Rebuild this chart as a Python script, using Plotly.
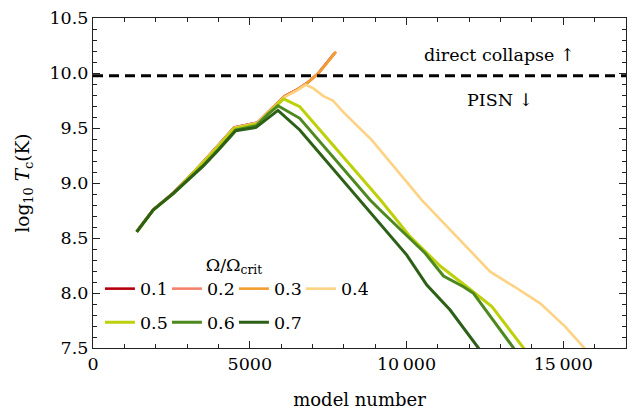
import plotly.graph_objects as go

# ---- data ----
omega_labels = ["0.1", "0.2", "0.3", "0.4", "0.5", "0.6", "0.7"]
colors = ["#b3000b", "#f4836c", "#f29d2f", "#fdd282", "#bdd10b", "#4e891f", "#2c6016"]

x_01 = [1394, 1923, 2563, 2936, 3520, 4000, 4500, 5250, 5700, 6100, 6500, 6820, 7190, 7403, 7700]
y_01 = [8.562, 8.760, 8.912, 9.018, 9.195, 9.345, 9.505, 9.550, 9.675, 9.787, 9.848, 9.908, 9.999, 10.075, 10.180]
x_02 = [1394, 1923, 2563, 2936, 3520, 4000, 4500, 5250, 5700, 6100, 6500, 6820, 7190, 7403, 7730]
y_02 = [8.560, 8.758, 8.910, 9.016, 9.193, 9.343, 9.503, 9.548, 9.673, 9.786, 9.847, 9.907, 9.998, 10.074, 10.188]
x_03 = [1394, 1923, 2563, 2936, 3520, 4000, 4500, 5250, 5700, 6100, 6500, 6820, 7190, 7403, 7754]
y_03 = [8.558, 8.757, 8.908, 9.014, 9.191, 9.341, 9.501, 9.546, 9.672, 9.785, 9.846, 9.906, 9.997, 10.073, 10.194]
x_04 = [1394, 1923, 2563, 2936, 3520, 4000, 4500, 5250, 5700, 6100, 6500, 6790, 7030, 7350, 7650,
        8000, 8893, 9800, 10488, 11577, 12666, 13518, 14262, 15060, 15700]
y_04 = [8.557, 8.756, 8.907, 9.013, 9.190, 9.340, 9.500, 9.545, 9.670, 9.780, 9.840, 9.893, 9.860, 9.790, 9.750,
        9.640, 9.390, 9.080, 8.845, 8.520, 8.194, 8.043, 7.906, 7.694, 7.490]
x_05 = [1394, 1923, 2563, 2936, 3520, 4000, 4500, 5250, 5700, 6080, 6595, 9158, 10116, 11073, 11924, 12722, 13760]
y_05 = [8.556, 8.755, 8.906, 9.012, 9.185, 9.335, 9.495, 9.540, 9.665, 9.765, 9.694, 8.850, 8.512, 8.245, 8.057, 7.876, 7.490]
x_06 = [1394, 1923, 2563, 2936, 3520, 4000, 4550, 5200, 5600, 5900, 6595, 8838, 9158, 10595, 11178, 11816, 12135, 13440]
y_06 = [8.556, 8.755, 8.906, 9.005, 9.160, 9.305, 9.480, 9.520, 9.630, 9.702, 9.588, 8.845, 8.755, 8.361, 8.155, 8.057, 7.997, 7.490]
x_07 = [1394, 1923, 2563, 2936, 3520, 4000, 4550, 5200, 5600, 5900, 6595, 8519, 8785, 10009, 10648, 11391, 12320]
y_07 = [8.556, 8.755, 8.906, 9.005, 9.155, 9.300, 9.475, 9.505, 9.590, 9.660, 9.482, 8.845, 8.755, 8.345, 8.073, 7.845, 7.490]

xs = [x_01, x_02, x_03, x_04, x_05, x_06, x_07]
ys = [y_01, y_02, y_03, y_04, y_05, y_06, y_07]

threshold = 9.975
x_ticks = [0, 5000, 10000, 15000]
x_ticktext = ["0", "5000", "10\u2009000", "15\u2009000"]
y_ticks = [7.5, 8.0, 8.5, 9.0, 9.5, 10.0, 10.5]

FONT = "DejaVu Serif"
FS = 17.5

fig = go.Figure()
for i, (lab, c) in enumerate(zip(omega_labels, colors)):
    fig.add_trace(go.Scatter(
        x=xs[i], y=ys[i], mode="lines", name=lab,
        line=dict(color=c, width=3 if i >= 4 else 2.6),
        legend="legend" if i < 4 else "legend2",
    ))

fig.add_hline(y=threshold, line=dict(color="black", width=3.2, dash="10px,6px"))

fig.add_annotation(x=0.763, y=0.888, xref="paper", yref="paper", text="direct collapse ↑",
                   xanchor="center", yanchor="middle",
                   showarrow=False, font=dict(family=FONT, size=FS, color="black"))
fig.add_annotation(x=0.764, y=0.752, xref="paper", yref="paper", text="PISN ↓",
                   xanchor="center", yanchor="middle",
                   showarrow=False, font=dict(family=FONT, size=FS, color="black"))

axis_common = dict(
    showgrid=False, zeroline=False, showline=True, linecolor="#222", linewidth=1.3,
    mirror="allticks", ticks="inside", ticklen=7, tickwidth=1.1, tickcolor="#222",
    tickfont=dict(family=FONT, size=FS, color="black"), automargin=False,
)

fig.update_xaxes(range=[0, 17000], tickvals=x_ticks, ticktext=x_ticktext,
                 minor=dict(dtick=1000, ticks="inside", ticklen=4, tickwidth=1, tickcolor="#222"),
                 title=dict(text="model number", font=dict(family=FONT, size=FS + 0.5, color="black"), standoff=20),
                 **axis_common)
fig.update_yaxes(range=[7.5, 10.5], tickvals=y_ticks, tickformat=".1f",
                 minor=dict(dtick=0.1, ticks="inside", ticklen=4, tickwidth=1, tickcolor="#222"),
                 title=dict(text="log<sub>10</sub> <i>T</i><sub>c</sub>(K)",
                            font=dict(family=FONT, size=FS + 1, color="black"), standoff=14),
                 **axis_common)

leg_common = dict(
    orientation="h", xanchor="left", yanchor="top", bgcolor="rgba(0,0,0,0)",
    font=dict(family=FONT, size=FS, color="black"), itemwidth=30,
    entrywidth=22, entrywidthmode="pixels", borderwidth=0, tracegroupgap=0,
)

fig.update_layout(
    width=635, height=413,
    margin=dict(l=93, r=9, t=18, b=65, autoexpand=False),
    paper_bgcolor="white", plot_bgcolor="white",
    font=dict(family=FONT, size=FS, color="black"),
    showlegend=True,
    legend=dict(x=0.013, y=0.303,
                title=dict(text="Ω/Ω<sub>crit</sub>", side="top center",
                           font=dict(family=FONT, size=FS, color="black")),
                **leg_common),
    legend2=dict(x=0.013, y=0.132, **leg_common),
)

fig.write_html("out.html")
